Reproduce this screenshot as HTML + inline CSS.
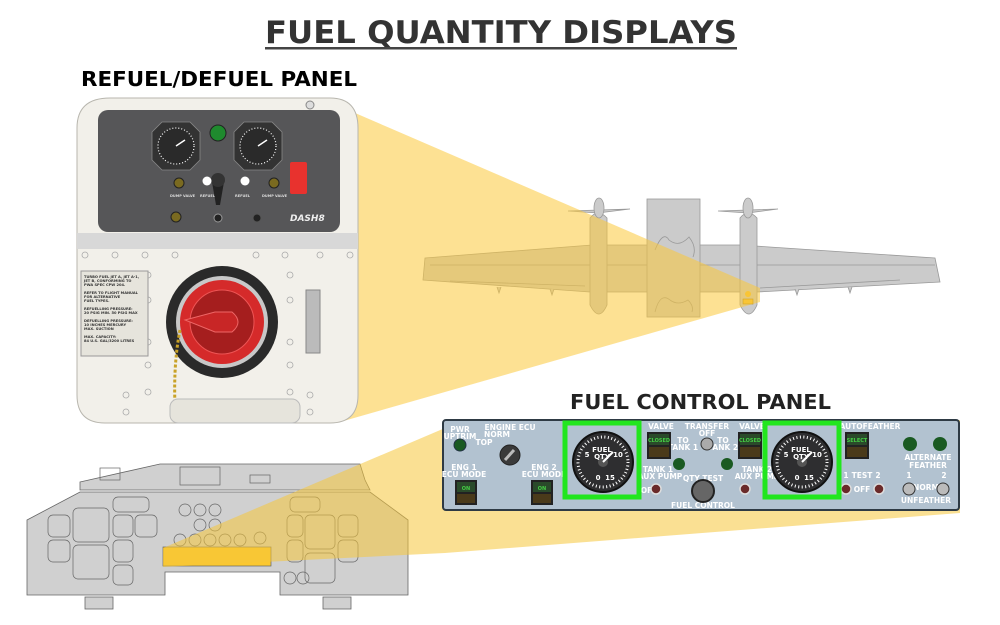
<!DOCTYPE html>
<html><head><meta charset="utf-8"><style>
html,body{margin:0;padding:0;background:#fff;}
svg{display:block;}
text{font-family:"DejaVu Sans","Liberation Sans",sans-serif;font-weight:bold;}
</style></head><body>
<svg width="1000" height="625" viewBox="0 0 1000 625" xmlns="http://www.w3.org/2000/svg">
<!-- Title -->
<text x="265" y="43" font-size="31" fill="#333" textLength="472" lengthAdjust="spacingAndGlyphs">FUEL QUANTITY DISPLAYS</text>
<rect x="265" y="47" width="472" height="2.5" fill="#444"/>
<text x="81" y="86" font-size="20" fill="#000" textLength="276" lengthAdjust="spacingAndGlyphs">REFUEL/DEFUEL PANEL</text>
<text x="570" y="409" font-size="20" fill="#222" textLength="261" lengthAdjust="spacingAndGlyphs">FUEL CONTROL PANEL</text>

<!-- Airplane -->
<g stroke="#999" stroke-width="0.8" fill="#cbcbcb">
  <path d="M425 258 L592 245 L740 245 L935 258 L940 282 L757 292 L590 292 L423 280 Z"/>
  <path d="M430 265 L935 265" fill="none"/>
  <path d="M450 281 L585 286 M760 288 L900 280" fill="none"/>
  <path d="M497 287 l2 6 l2 -6 M550 289 l2 6 l2 -6 M795 289 l2 6 l2 -6 M848 287 l2 6 l2 -6"/>
  <rect x="647" y="199" width="53" height="118"/>
  <path d="M655 250 q8 -20 14 -10 q10 8 20 -3 q8 10 4 20" fill="none"/>
  <path d="M655 312 q5 -20 15 -12 q8 6 18 0 q6 6 4 12" fill="none"/>
  <path d="M590 218 q8 -10 17 0 L607 305 q-8 18 -17 0 Z"/>
  <path d="M740 218 q8 -10 17 0 L757 305 q-8 18 -17 0 Z"/>
  <path d="M568 211 L630 209 L598 213 Z M718 211 L778 209 L748 213 Z"/>
  <ellipse cx="599" cy="208" rx="5" ry="10"/>
  <ellipse cx="748" cy="208" rx="5" ry="10"/>
</g>
<circle cx="748" cy="294" r="3" fill="#f5c030"/>
<rect x="743" y="299" width="10" height="5" fill="#f5c030" stroke="#a07a10" stroke-width="0.6"/>

<!-- Beam 1 -->
<polygon points="325,100 760,288 760,302 340,422" fill="#fcc93a" fill-opacity="0.55"/>

<!-- Refuel panel -->
<path d="M110 98 L330 98 Q358 98 358 128 L358 395 Q358 423 330 423 L105 423 Q77 423 77 395 L77 128 Q77 98 110 98 Z" fill="#f2f0ea" stroke="#b8b6ae" stroke-width="1"/>
<circle cx="310" cy="105" r="4" fill="#ddd" stroke="#888"/>
<rect x="98" y="110" width="242" height="122" rx="10" fill="#565658"/>
<g fill="#333" stroke="#888" stroke-width="0.8">
  <path d="M162 122 l28 0 l10 10 l0 28 l-10 10 l-28 0 l-10 -10 l0 -28 Z"/>
  <path d="M244 122 l28 0 l10 10 l0 28 l-10 10 l-28 0 l-10 -10 l0 -28 Z"/>
</g>
<circle cx="176" cy="146" r="18" fill="#2a2a2a" stroke="#fff" stroke-width="1.2" stroke-dasharray="1 2"/>
<circle cx="258" cy="146" r="18" fill="#2a2a2a" stroke="#fff" stroke-width="1.2" stroke-dasharray="1 2"/>
<line x1="176" y1="146" x2="185" y2="140" stroke="#fff" stroke-width="1.5"/>
<line x1="258" y1="146" x2="267" y2="140" stroke="#fff" stroke-width="1.5"/>
<circle cx="218" cy="133" r="8" fill="#1f8a2e" stroke="#222"/>
<path d="M212 182 L224 182 L220 205 L216 205 Z" fill="#222"/>
<circle cx="218" cy="180" r="7" fill="#333"/>
<circle cx="179" cy="183" r="5" fill="#7a6a20" stroke="#222"/>
<circle cx="207" cy="181" r="4.5" fill="#fff"/>
<circle cx="245" cy="181" r="4.5" fill="#fff"/>
<circle cx="274" cy="183" r="5" fill="#7a6a20" stroke="#222"/>
<rect x="290" y="162" width="17" height="32" rx="2" fill="#e8322e"/>
<circle cx="176" cy="217" r="5" fill="#7a6a20" stroke="#222"/>
<circle cx="218" cy="218" r="4" fill="#222" stroke="#999"/>
<circle cx="257" cy="218" r="4" fill="#222" stroke="#555"/>
<text x="290" y="221" font-size="9" font-style="italic" fill="#eee">DASH8</text>
<g fill="#ddd" font-size="3.5">
<text x="170" y="197">DUMP VALVE</text><text x="200" y="197">REFUEL</text>
<text x="235" y="197">REFUEL</text><text x="262" y="197">DUMP VALVE</text>
</g>
<rect x="77" y="233" width="281" height="16" fill="#d8d8d8"/>
<g fill="none" stroke="#aaa" stroke-width="0.8">
<circle cx="85" cy="255" r="3"/><circle cx="115" cy="255" r="3"/><circle cx="145" cy="255" r="3"/><circle cx="175" cy="255" r="3"/><circle cx="256" cy="255" r="3"/><circle cx="285" cy="255" r="3"/><circle cx="320" cy="255" r="3"/><circle cx="350" cy="255" r="3"/>
<circle cx="148" cy="275" r="3"/><circle cx="148" cy="300" r="3"/><circle cx="148" cy="342" r="3"/><circle cx="148" cy="365" r="3"/><circle cx="290" cy="275" r="3"/><circle cx="290" cy="300" r="3"/><circle cx="290" cy="342" r="3"/><circle cx="290" cy="365" r="3"/>
<circle cx="126" cy="395" r="3"/><circle cx="148" cy="392" r="3"/><circle cx="290" cy="392" r="3"/><circle cx="310" cy="395" r="3"/><circle cx="126" cy="412" r="3"/><circle cx="310" cy="412" r="3"/>
</g>
<rect x="81" y="271" width="67" height="85" fill="#e6e4dc" stroke="#999"/>
<g font-size="3.6" fill="#333">
<text x="84" y="278">TURBO FUEL JET A, JET A-1,</text><text x="84" y="282">JET B, CONFORMING TO</text><text x="84" y="286">PWA SPEC CPW 204.</text>
<text x="84" y="294">REFER TO FLIGHT MANUAL</text><text x="84" y="298">FOR ALTERNATIVE</text><text x="84" y="302">FUEL TYPES.</text>
<text x="84" y="310">REFUELLING PRESSURE:</text><text x="84" y="314">20 PSIG MIN. 50 PSIG MAX</text>
<text x="84" y="322">DEFUELLING PRESSURE:</text><text x="84" y="326">10 INCHES MERCURY</text><text x="84" y="330">MAX. SUCTION</text>
<text x="84" y="338">MAX. CAPACITY:</text><text x="84" y="342">84 U.S. GAL/3200 LITRES</text>
</g>
<circle cx="222" cy="322" r="56" fill="#2a2a2a"/>
<circle cx="222" cy="322" r="46" fill="#c8c8c8"/>
<circle cx="222" cy="322" r="42" fill="#d52a2a"/>
<circle cx="222" cy="322" r="32" fill="#a51e1e" stroke="#e55" stroke-width="1"/>
<path d="M185 320 L215 312 L232 312 Q244 322 232 332 L215 332 Z" fill="#c82626" stroke="#e66"/>
<path d="M180 330 Q172 370 176 423" fill="none" stroke="#c9a227" stroke-width="3" stroke-dasharray="3 2"/>
<rect x="306" y="290" width="14" height="63" fill="#bbb" stroke="#888"/>
<rect x="170" y="399" width="130" height="24" rx="8" fill="#e6e4dc" stroke="#bbb"/>

<!-- Cockpit -->
<g fill="#d0d0d0" stroke="#666" stroke-width="0.8">
  <path d="M80 482 L160 464 L360 464 L365 480 L370 490 L80 490 Z"/>
  <path d="M27 520 L80 492 L370 492 L408 520 L408 595 L280 595 L280 572 L165 572 L165 595 L27 595 Z"/>
  <rect x="85" y="597" width="28" height="12"/><rect x="323" y="597" width="28" height="12"/>
</g>
<g fill="none" stroke="#666" stroke-width="0.7">
  <rect x="48" y="515" width="22" height="22" rx="5"/><rect x="48" y="540" width="22" height="22" rx="5"/>
  <rect x="73" y="508" width="36" height="34" rx="5"/><rect x="73" y="545" width="36" height="34" rx="5"/>
  <rect x="113" y="497" width="36" height="15" rx="5"/><rect x="113" y="515" width="20" height="22" rx="5"/><rect x="135" y="515" width="22" height="22" rx="5"/>
  <rect x="113" y="540" width="20" height="22" rx="5"/><rect x="113" y="565" width="20" height="20" rx="5"/>
  <rect x="290" y="497" width="30" height="15" rx="5"/><rect x="305" y="515" width="30" height="34" rx="5"/><rect x="305" y="553" width="30" height="30" rx="5"/>
  <rect x="287" y="515" width="16" height="22" rx="5"/><rect x="287" y="540" width="16" height="22" rx="5"/>
  <rect x="338" y="515" width="20" height="22" rx="5"/><rect x="338" y="540" width="20" height="22" rx="5"/>
  <circle cx="185" cy="510" r="6"/><circle cx="200" cy="510" r="6"/><circle cx="215" cy="510" r="6"/><circle cx="200" cy="525" r="6"/><circle cx="215" cy="525" r="6"/>
  <circle cx="180" cy="540" r="6"/><circle cx="195" cy="540" r="6"/><circle cx="210" cy="540" r="6"/><circle cx="225" cy="540" r="6"/><circle cx="240" cy="540" r="6"/><circle cx="260" cy="538" r="6"/>
  <circle cx="290" cy="578" r="6"/><circle cx="303" cy="578" r="6"/>
  <rect x="100" y="468" width="20" height="12"/><rect x="180" y="467" width="40" height="18"/><rect x="250" y="475" width="20" height="8"/>
</g>
<rect x="163" y="547" width="108" height="19" fill="#fbc830" stroke="#666" stroke-width="0.7"/>

<!-- Beam 2 -->
<polygon points="163,548 445,428 960,420 960,513 445,553 163,567" fill="#f6c63a" fill-opacity="0.55"/>

<!-- Fuel control panel -->
<rect x="443" y="420" width="516" height="90" rx="3" fill="#b2c2d0" stroke="#2e3a44" stroke-width="2"/>
<g font-size="7.5" fill="#fff" text-anchor="middle">
<text x="460" y="432">PWR</text><text x="460" y="439">UPTRIM</text>
<text x="510" y="430">ENGINE ECU</text><text x="497" y="437">NORM</text><text x="484" y="445">TOP</text>
<text x="464" y="470">ENG 1</text><text x="464" y="477">ECU MODE</text>
<text x="544" y="470">ENG 2</text><text x="544" y="477">ECU MODE</text>
<text x="661" y="429">VALVE</text><text x="707" y="429">TRANSFER</text><text x="707" y="436">OFF</text>
<text x="683" y="443">TO</text><text x="683" y="450">TANK 1</text><text x="723" y="443">TO</text><text x="723" y="450">TANK 2</text>
<text x="752" y="429">VALVE</text>
<text x="658" y="472">TANK 1</text><text x="660" y="479">AUX PUMP</text>
<text x="757" y="472">TANK 2</text><text x="757" y="479">AUX PUMP</text>
<text x="703" y="481">QTY TEST</text><text x="703" y="508">FUEL CONTROL</text>
<text x="870" y="429">AUTOFEATHER</text>
<text x="928" y="460">ALTERNATE</text><text x="928" y="468">FEATHER</text>
<text x="846" y="478">1</text><text x="862" y="478">TEST</text><text x="878" y="478">2</text><text x="862" y="492">OFF</text>
<text x="909" y="478">1</text><text x="944" y="478">2</text><text x="926" y="490">NORM</text><text x="926" y="503">UNFEATHER</text>
<text x="649" y="493">OFF</text>
</g>
<circle cx="460" cy="445" r="6" fill="#1a5a22" stroke="#234"/>
<circle cx="510" cy="455" r="10" fill="#3a3a3a" stroke="#222"/>
<line x1="505" y1="460" x2="514" y2="450" stroke="#bbb" stroke-width="3"/>
<rect x="455" y="480" width="22" height="25" fill="#222"/><rect x="457" y="482" width="18" height="10" fill="#2a4a2a"/><text x="466" y="490" font-size="5" fill="#4c4" text-anchor="middle">ON</text><rect x="457" y="494" width="18" height="9" fill="#4a3a1a"/>
<rect x="531" y="480" width="22" height="25" fill="#222"/><rect x="533" y="482" width="18" height="10" fill="#2a4a2a"/><text x="542" y="490" font-size="5" fill="#4c4" text-anchor="middle">ON</text><rect x="533" y="494" width="18" height="9" fill="#4a3a1a"/>
<rect x="647" y="432" width="24" height="27" fill="#222"/><rect x="649" y="434" width="20" height="11" fill="#2a4a2a"/><text x="659" y="442" font-size="5" fill="#4c4" text-anchor="middle">CLOSED</text><rect x="649" y="447" width="20" height="10" fill="#4a3a1a"/>
<rect x="738" y="432" width="24" height="27" fill="#222"/><rect x="740" y="434" width="20" height="11" fill="#2a4a2a"/><text x="750" y="442" font-size="5" fill="#4c4" text-anchor="middle">CLOSED</text><rect x="740" y="447" width="20" height="10" fill="#4a3a1a"/>
<rect x="845" y="432" width="24" height="27" fill="#222"/><rect x="847" y="434" width="20" height="11" fill="#2a4a2a"/><text x="857" y="442" font-size="5" fill="#4c4" text-anchor="middle">SELECT</text><rect x="847" y="447" width="20" height="10" fill="#4a3a1a"/>
<circle cx="679" cy="464" r="6" fill="#1a5a22"/><circle cx="727" cy="464" r="6" fill="#1a5a22"/>
<circle cx="910" cy="444" r="7" fill="#1a5a22"/><circle cx="940" cy="444" r="7" fill="#1a5a22"/>
<circle cx="707" cy="444" r="6" fill="#aaa" stroke="#333"/>
<circle cx="703" cy="491" r="11" fill="#666" stroke="#222" stroke-width="2"/>
<g fill="#6a2a2a" stroke="#ddd" stroke-width="1.5">
<circle cx="656" cy="489" r="5"/><circle cx="745" cy="489" r="5"/><circle cx="846" cy="489" r="5"/><circle cx="879" cy="489" r="5"/>
</g>
<circle cx="909" cy="489" r="6" fill="#bbb" stroke="#333"/><circle cx="943" cy="489" r="6" fill="#bbb" stroke="#333"/>
<!-- Gauges -->
<rect x="565" y="423" width="74" height="74" fill="none" stroke="#22e61e" stroke-width="5"/>
<circle cx="603" cy="462" r="30" fill="#2e2e30" stroke="#111" stroke-width="2"/>
<circle cx="603" cy="462" r="25" fill="none" stroke="#fff" stroke-width="3" stroke-dasharray="1 2.5"/>
<circle cx="603" cy="462" r="5" fill="#555"/>
<line x1="603" y1="462" x2="613" y2="452" stroke="#fff" stroke-width="2"/>
<g font-size="7" fill="#fff" font-weight="normal" text-anchor="middle"><text x="602" y="452">FUEL</text><text x="602" y="459">QTY</text><text x="587" y="457">5</text><text x="618" y="457">10</text><text x="598" y="480">0</text><text x="610" y="480">15</text></g>
<rect x="765" y="423" width="74" height="74" fill="none" stroke="#22e61e" stroke-width="5"/>
<circle cx="802" cy="462" r="30" fill="#2e2e30" stroke="#111" stroke-width="2"/>
<circle cx="802" cy="462" r="25" fill="none" stroke="#fff" stroke-width="3" stroke-dasharray="1 2.5"/>
<circle cx="802" cy="462" r="5" fill="#555"/>
<line x1="802" y1="462" x2="812" y2="452" stroke="#fff" stroke-width="2"/>
<g font-size="7" fill="#fff" font-weight="normal" text-anchor="middle"><text x="801" y="452">FUEL</text><text x="801" y="459">QTY</text><text x="786" y="457">5</text><text x="817" y="457">10</text><text x="797" y="480">0</text><text x="809" y="480">15</text></g>
</svg>
</body></html>
